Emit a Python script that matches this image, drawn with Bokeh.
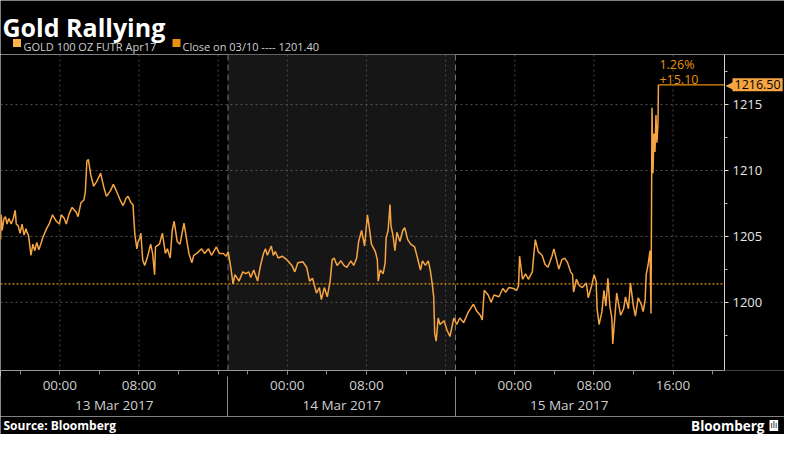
from bokeh.plotting import figure
from bokeh.layouts import column
from bokeh.models import Range1d, FixedTicker, Span, BoxAnnotation, Label, LinearAxis
from bokeh.embed import file_html
from bokeh.resources import INLINE

# ---- data (hours since session open 18:00 12 Mar, trading hours only) ----
hours = [
    0.00, 0.07, 0.17, 0.35, 0.50, 0.66, 0.84, 1.09, 1.29, 1.49, 1.59, 1.79, 1.98, 2.18, 2.38,
    2.58, 2.68, 2.83, 3.08, 3.27, 3.47, 3.67, 3.87, 4.07, 4.27, 4.66, 4.96, 5.26, 5.65, 5.95,
    6.15, 6.45, 6.65, 6.94, 7.24, 7.64, 7.84, 8.13, 8.43, 8.58, 8.73, 8.88, 9.13, 9.42, 9.72,
    10.12, 10.42, 10.71, 11.11, 11.41, 11.71, 12.10, 12.40, 12.70,
    12.90, 13.19, 13.39, 13.59, 13.79, 13.89, 14.09, 14.19, 14.38, 14.58, 14.88, 15.18, 15.38,
    15.58, 15.67, 16.07, 16.37, 16.67, 16.87, 17.16, 17.36, 17.56, 17.86, 18.15, 18.55, 18.85,
    19.05, 19.35, 19.54, 19.84, 20.14, 20.34, 20.63, 21.03, 21.33, 21.83, 22.12, 22.52, 22.82,
    23.02, 23.31, 23.51, 23.71, 24.11, 24.50,
    24.80, 25.10, 25.30, 25.60, 25.99, 26.29, 26.59, 26.79, 26.98, 27.38, 27.58, 27.78, 28.08,
    28.47, 28.97, 29.46, 29.76, 30.06, 30.56, 30.95, 31.25, 31.55, 31.94, 32.24, 32.44, 32.74,
    33.04, 33.33, 33.53, 33.73, 34.03, 34.42, 34.72, 35.02, 35.42, 35.71, 36.01, 36.21, 36.51,
    36.81, 37.10, 37.30, 37.50, 37.90, 38.10, 38.19, 38.39,
    38.69, 38.89, 38.99, 39.19, 39.38, 39.48, 39.68, 39.88, 40.08, 40.38, 40.67, 40.87, 41.17,
    41.47, 41.87, 42.16, 42.46, 42.66, 42.96, 43.25, 43.45, 43.65, 43.80, 43.90, 44.05, 44.25,
    44.44, 44.84, 45.14, 45.44, 45.83, 46.13, 46.43, 46.83, 47.32, 47.82, 48.12, 48.51, 48.71,
    48.91, 49.31, 49.60, 49.90, 50.40, 50.79, 51.09, 51.39, 51.88,
    52.18, 52.38, 52.48, 52.78, 53.08, 53.37, 53.77, 53.87, 54.07, 54.37, 54.76, 55.06, 55.36,
    55.75, 55.95, 56.25, 56.45, 56.75, 57.04, 57.34, 57.64, 57.84, 57.94, 58.23, 58.53, 58.83,
    59.23, 59.42, 59.72, 60.02, 60.22, 60.32, 60.52, 60.81, 61.01, 61.21, 61.41, 61.61, 61.81,
    61.90, 62.20, 62.30, 62.70, 63.00, 63.19, 63.49, 63.69, 63.99, 64.19, 64.48, 64.78, 64.98,
    65.18, 65.28, 65.48, 65.67, 65.77,
    65.87, 65.97, 66.07, 66.17, 66.27, 66.37, 66.47, 66.52,
]
prices = [
    1204.76, 1206.64, 1205.45, 1206.36, 1206.50, 1205.94, 1206.36, 1205.94, 1206.36, 1206.99,
    1205.94, 1205.80, 1205.24, 1205.94, 1205.10, 1205.59, 1205.31, 1205.10, 1203.57, 1204.41,
    1203.92, 1204.55, 1203.99, 1204.41, 1204.90, 1205.59, 1206.01, 1206.64, 1206.15, 1205.94,
    1206.64, 1206.36, 1205.94, 1206.71, 1207.20, 1206.85, 1206.50, 1207.55, 1207.76, 1208.39,
    1210.70, 1210.84, 1209.65, 1208.81, 1209.16, 1209.79, 1208.81, 1208.04, 1208.46, 1208.95,
    1208.46, 1207.76, 1207.34, 1207.90,
    1208.04, 1207.55, 1207.41, 1205.10, 1204.06, 1204.55, 1204.90, 1205.24, 1203.22, 1202.80,
    1203.50, 1204.41, 1203.71, 1202.10, 1204.20, 1204.41, 1205.24, 1203.71, 1204.06, 1203.36,
    1205.45, 1206.15, 1204.62, 1204.41, 1206.01, 1204.62, 1203.71, 1203.01, 1203.57, 1203.71,
    1203.92, 1204.06, 1203.71, 1204.06, 1203.57, 1204.20, 1203.71, 1203.71, 1203.50, 1203.85,
    1202.52, 1201.40, 1202.10, 1201.61, 1202.31,
    1202.17, 1202.31, 1201.89, 1202.45, 1201.61, 1202.80, 1203.71, 1204.06, 1203.57, 1204.27,
    1203.57, 1203.85, 1203.36, 1203.50, 1203.22, 1202.80, 1202.31, 1203.01, 1203.08, 1202.66,
    1201.61, 1201.82, 1200.70, 1201.12, 1200.21, 1201.12, 1200.42, 1201.61, 1203.22, 1203.36,
    1202.80, 1203.15, 1202.80, 1202.66, 1203.15, 1202.80, 1203.36, 1204.62, 1205.45, 1204.27,
    1206.64, 1205.59, 1204.41, 1203.85, 1203.22, 1201.61, 1202.45,
    1202.17, 1203.01, 1204.90, 1205.45, 1207.41, 1205.80, 1205.10, 1203.92, 1205.31, 1204.62,
    1205.45, 1205.66, 1204.76, 1204.41, 1204.20, 1203.36, 1202.45, 1203.15, 1202.80, 1203.15,
    1202.45, 1201.40, 1200.42, 1197.62, 1197.06, 1198.81, 1198.32, 1198.60, 1197.90, 1197.41,
    1198.81, 1198.32, 1198.81, 1198.46, 1199.30, 1199.86, 1199.37, 1199.02, 1198.67, 1200.91,
    1200.56, 1200.00, 1200.56, 1200.42, 1201.05, 1200.77, 1201.12, 1201.05,
    1200.91, 1201.26, 1203.50, 1201.75, 1202.17, 1201.75, 1202.31, 1203.22, 1204.76, 1203.85,
    1203.57, 1202.87, 1202.66, 1203.50, 1204.06, 1203.15, 1202.52, 1203.22, 1203.36, 1203.01,
    1202.31, 1202.10, 1200.77, 1201.75, 1201.26, 1201.12, 1201.47, 1200.35, 1201.12, 1202.10,
    1201.61, 1199.51, 1198.32, 1199.30, 1200.91, 1199.72, 1201.82, 1199.72, 1198.81, 1196.85,
    1199.72, 1200.70, 1199.02, 1199.51, 1200.42, 1199.51, 1201.47, 1199.72, 1198.95, 1200.35,
    1199.86, 1199.30, 1200.21, 1202.10, 1202.87, 1203.92, 1199.16,
    1214.76, 1209.79, 1212.80, 1211.40, 1214.20, 1212.10, 1213.50, 1216.50,
]

prev_close = 1201.40
last_close = 1216.50
change_abs = "+15.10"
change_pct = "1.26%"
series_name = "GOLD 100 OZ FUTR Apr17"
close_name = "Close on 03/10 ---- 1201.40"
title_text = "Gold Rallying"
source_text = "Source: Bloomberg"
brand_text = "Bloomberg"

session_bounds = [0, 23, 46]
session_centers = [11.5, 34.5, 57.5]
session_dates = ["13 Mar 2017", "14 Mar 2017", "15 Mar 2017"]
time_ticks = [6, 14, 29, 37, 52, 60, 68]
time_labels = ["00:00", "08:00", "00:00", "08:00", "00:00", "08:00", "16:00"]
grid_hours = [6, 14, 22, 29, 37, 45, 52, 60, 68]
minor_hours = [2, 6, 10, 14, 18, 22, 25, 29, 33, 37, 41, 45, 48, 52, 56, 60, 64, 68, 72]
price_ticks = [1200, 1205, 1210, 1215]
price_minor = [1197.5, 1202.5, 1207.5, 1212.5, 1217.5]
x_axis_end = 73.2
y_lo, y_hi = 1194.83, 1218.8

LINE = "#f7a543"
DARK_OR = "#e8900f"
TXT = "#cfcfcf"
FONT = "Open Sans"
BG = "black"

W = 784
HEAD_H, MAIN_H, FOOT_H = 54, 362, 18
RIGHT = 60
x_view_end = x_axis_end * W / (W - RIGHT)


def blank(h):
    f = figure(width=W, height=h, output_backend="svg", toolbar_location=None,
               x_range=Range1d(0, W), y_range=Range1d(0, h),
               x_axis_location=None, y_axis_location=None,
               background_fill_color=BG, border_fill_color=BG, outline_line_color=None,
               min_border=0)
    f.grid.visible = False
    return f


# ---------------- header ----------------
head = blank(HEAD_H)
head.add_layout(Label(x=2, y=HEAD_H - 26, text=title_text, text_color="white",
                      text_font=FONT, text_font_style="bold", text_font_size="25px",
                      text_baseline="alphabetic"))
head.scatter([16.5], [11.5], marker="square", size=8, color="#ffb347", line_color=None)
head.scatter([176], [11.5], marker="square", size=8, color=DARK_OR, line_color=None)
head.add_layout(Label(x=23, y=8, text=series_name, text_color=TXT,
                      text_font=FONT, text_font_size="11px", text_baseline="alphabetic"))
head.add_layout(Label(x=182, y=8, text=close_name, text_color=TXT,
                      text_font=FONT, text_font_size="11px", text_baseline="alphabetic"))

# ---------------- main chart ----------------
p = figure(width=W, height=MAIN_H, output_backend="svg", toolbar_location=None,
           x_range=Range1d(0, x_view_end), y_range=Range1d(y_lo, y_hi),
           y_axis_location=None, background_fill_color=BG,
           border_fill_color=BG, outline_line_color=None,
           min_border_left=0, min_border_right=0, min_border_top=0, min_border_bottom=30)
p.grid.visible = False

p.add_layout(BoxAnnotation(left=session_bounds[1], right=session_bounds[2],
                           fill_color="#161616", fill_alpha=1.0, line_color=None,
                           level="underlay"))

for gh in grid_hours:
    p.add_layout(Span(location=gh, dimension="height", line_color="#4a4a4a",
                      line_dash="2 3", line_width=1, level="underlay"))
for sb in session_bounds[1:]:
    p.add_layout(Span(location=sb, dimension="height", line_color="#777777",
                      line_dash="6 4", line_width=1, level="underlay"))

# horizontal grid lines at price ticks, stopping at the price axis
p.segment(x0=[0] * len(price_ticks), y0=price_ticks,
          x1=[x_axis_end] * len(price_ticks), y1=price_ticks,
          line_color="#555555", line_dash="2 3", line_width=1)
# previous close
p.segment(x0=[0], y0=[prev_close], x1=[x_axis_end], y1=[prev_close],
          line_color=DARK_OR, line_dash="2 2", line_width=1.2)

p.line(hours, prices, line_color=LINE, line_width=1.5)
p.line([hours[-1], x_axis_end], [last_close, last_close], line_color=DARK_OR, line_width=1.2)

p.add_layout(Label(x=hours[-1] + 0.1, y=last_close + 1.55, text=change_pct, text_color=DARK_OR,
                   text_font=FONT, text_font_size="12.5px", text_baseline="middle"))
p.add_layout(Label(x=hours[-1] + 0.1, y=last_close + 0.42, text=change_abs, text_color=DARK_OR,
                   text_font=FONT, text_font_size="12.5px", text_baseline="middle"))

# price axis placed at the end of the time axis
ya = LinearAxis(fixed_location=x_axis_end,
                ticker=FixedTicker(ticks=price_ticks, minor_ticks=price_minor))
ya.axis_line_color = "#d0d0d0"
ya.major_tick_line_color = "#e0e0e0"
ya.minor_tick_line_color = "#bbbbbb"
ya.major_tick_out = 4
ya.major_tick_in = 0
ya.minor_tick_out = 3
ya.minor_tick_in = 0
ya.major_label_text_color = "#e6e6e6"
ya.major_label_text_font = FONT
ya.major_label_text_font_size = "13px"
ya.major_label_standoff = 4
p.add_layout(ya, "right")

# last price tag
p.add_layout(Label(x=x_axis_end, y=last_close, x_offset=1, text="◀", text_color=LINE,
                   text_font="DejaVu Sans", text_font_size="12px", text_baseline="middle"))
p.add_layout(Label(x=x_axis_end, y=last_close, x_offset=8, text=f"{last_close:.2f}",
                   text_color="black", background_fill_color=LINE, text_font=FONT,
                   text_font_size="12.5px", text_baseline="middle", padding=2))

# time axis
xa = p.xaxis[0]
xa.bounds = (0, x_axis_end)
xa.ticker = FixedTicker(ticks=time_ticks, minor_ticks=minor_hours)
xa.major_label_overrides = dict(zip(time_ticks, time_labels))
xa.major_tick_out = 4
xa.major_tick_in = 0
xa.minor_tick_out = 4
xa.minor_tick_in = 0
xa.major_tick_line_color = "#8a8a8a"
xa.minor_tick_line_color = "#8a8a8a"
xa.axis_line_color = "#9a9a9a"
xa.major_label_text_color = TXT
xa.major_label_text_font = FONT
xa.major_label_text_font_size = "13.5px"
xa.major_label_standoff = 1

# date axis
da = LinearAxis(ticker=FixedTicker(ticks=session_centers),
                major_label_overrides=dict(zip(session_centers, session_dates)),
                bounds=(0, x_axis_end))
da.axis_line_color = None
da.major_tick_line_color = None
da.minor_tick_line_color = None
da.major_tick_out = 0
da.major_tick_in = 0
da.major_label_standoff = -1
da.major_label_text_color = TXT
da.major_label_text_font = FONT
da.major_label_text_font_size = "13.5px"
p.add_layout(da, "below")

# session separators through the label rows
sa = LinearAxis(ticker=FixedTicker(ticks=session_bounds), bounds=(0, x_axis_end))
sa.axis_line_color = None
sa.minor_tick_line_color = None
sa.major_tick_in = 40
sa.major_tick_out = 0
sa.major_tick_line_color = "#8a8a8a"
sa.major_label_text_color = None
sa.major_label_text_font_size = "0px"
sa.major_label_standoff = 0
p.add_layout(sa, "below")

# ---------------- footer ----------------
foot = blank(FOOT_H)
foot.add_layout(Label(x=3, y=FOOT_H / 2, text=source_text, text_color="white",
                      text_font=FONT, text_font_style="bold", text_font_size="12px",
                      text_baseline="middle"))
foot.add_layout(Label(x=W - 20, y=FOOT_H / 2, text=brand_text, text_color="white",
                      text_font=FONT, text_font_style="bold", text_font_size="13.5px",
                      text_align="right", text_baseline="middle"))
foot.add_layout(Label(x=W - 15, y=FOOT_H / 2, text="ılı", text_color="black",
                      background_fill_color="white", text_font="DejaVu Sans",
                      text_font_size="8px", text_baseline="middle", padding=1))

layout = column(head, p, foot, spacing=0)
open("out.html", "w").write(file_html(layout, INLINE))
